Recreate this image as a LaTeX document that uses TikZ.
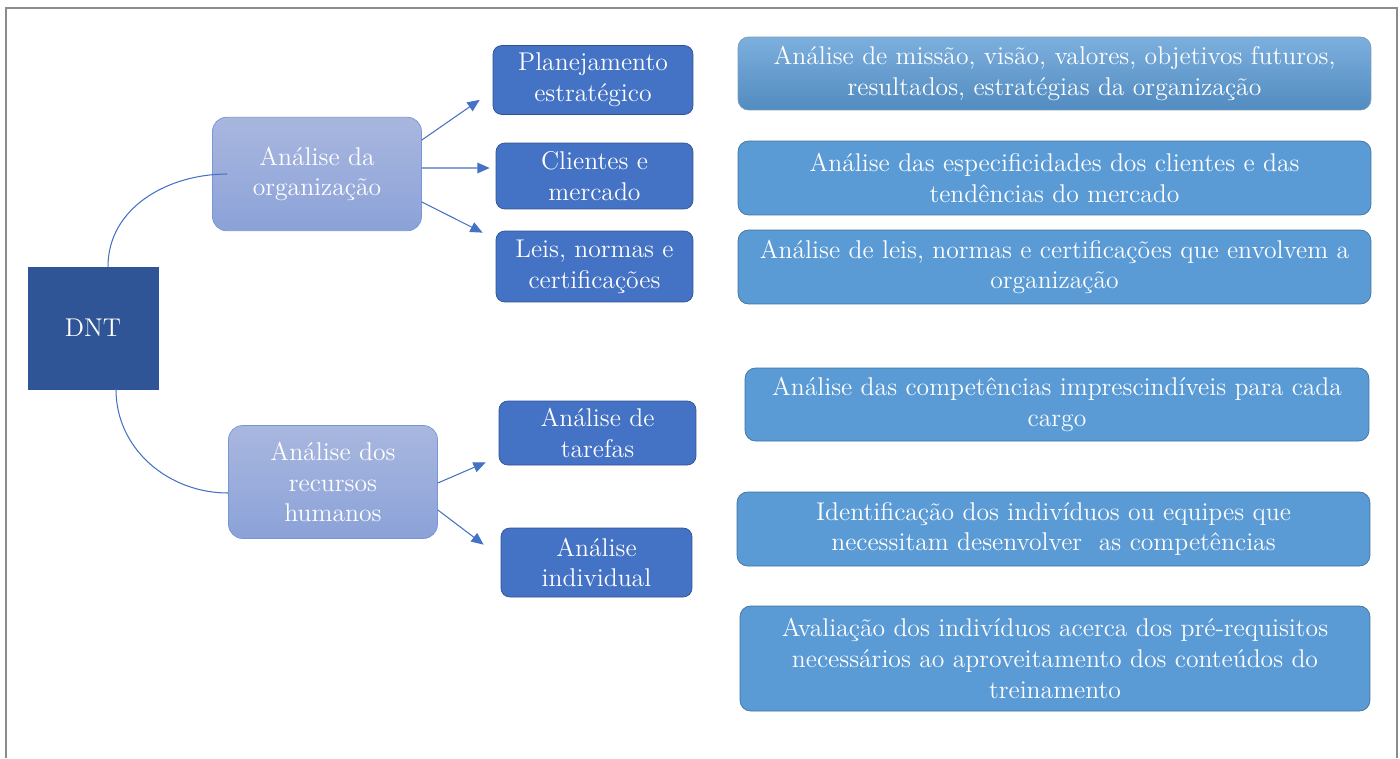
\documentclass[tikz,border=0pt]{standalone}
\usepackage{fontspec}
\usetikzlibrary{arrows.meta,positioning}

\definecolor{dntblue}{HTML}{2F5597}
\definecolor{midblue}{HTML}{4472C4}
\definecolor{midedge}{HTML}{2F528F}
\definecolor{lighttop}{HTML}{A9B7DF}
\definecolor{lightbot}{HTML}{8BA2D8}
\definecolor{lightedge}{HTML}{7895D6}
\definecolor{skyblue}{HTML}{5B9BD5}
\definecolor{skyedge}{HTML}{41719C}
\definecolor{framegray}{HTML}{8C8C8C}

\begin{document}
\begin{tikzpicture}[
  x=0.02cm, y=-0.02cm,
  font=\rmfamily\fontsize{14.6}{17.5}\selectfont,
  >={Triangle[length=7pt,width=6pt]},
  root/.style={
    rectangle, draw=dntblue, fill=dntblue, text=white,
    minimum width=2.6cm, minimum height=2.44cm, text centered
  },
  area/.style={
    rectangle, rounded corners=8pt, draw=lightedge, top color=lighttop,
    bottom color=lightbot, text=white, minimum width=4.18cm,
    minimum height=2.27cm, text centered, align=center
  },
  topic/.style={
    rectangle, rounded corners=5pt, draw=midedge, fill=midblue, text=white,
    minimum width=3.94cm, text centered, align=center, inner sep=2pt
  },
  detail/.style={
    rectangle, rounded corners=6pt, draw=skyedge, fill=skyblue, text=white,
    minimum width=12.66cm, minimum height=1.48cm, text centered, align=center,
    inner sep=2pt
  },
  arr/.style={->, draw=midblue, line width=0.6pt},
  link/.style={draw=midblue, line width=0.6pt},
]

\useasboundingbox (0,0) rectangle (1400,758);

%% Outer frame
\draw[framegray, line width=1pt] (6,758) -- (6,8) -- (1397,8) -- (1397,758);

%% Root and the two areas
\node[root]                   (dnt)  at (93,328)  {DNT};
\node[area]                   (org)  at (317,174) {Análise da\\organização};
\node[area, minimum height=2.26cm] (rh) at (333,482) {Análise dos\\recursos\\humanos};

%% Topics
\node[topic, minimum width=4cm, minimum height=1.38cm] (plan) at (593,80)    {Planejamento\\estratégico};
\node[topic, minimum height=1.32cm]                    (cli)  at (594.5,176) {Clientes e\\mercado};
\node[topic, minimum height=1.42cm]                    (leis) at (594.5,266.5) {Leis, normas e\\certificações};
\node[topic, minimum height=1.28cm]                    (tar)  at (597.5,433) {Análise de\\tarefas};
\node[topic, minimum width=3.82cm, minimum height=1.38cm] (ind) at (596.5,562.5) {Análise\\individual};

%% Details (right column)
\node[detail, draw=skyedge!70, top color=skyblue!80!white, bottom color=skyblue!90!black,
      minimum height=1.46cm] (dplan) at (1054.5,73.5)
  {Análise de missão, visão, valores, objetivos futuros,\\resultados, estratégias da organização};
\node[detail] (dcli)  at (1054.5,178)
  {Análise das especificidades dos clientes e das\\tendências do mercado};
\node[detail] (dleis) at (1054.5,267)
  {Análise de leis, normas e certificações que envolvem a\\organização};
\node[detail, minimum width=12.48cm, minimum height=1.46cm] (dtar) at (1057,404.5)
  {Análise das competências imprescindíveis para cada\\cargo};
\node[detail] (dind)  at (1053.5,529)
  {Identificação dos indivíduos ou equipes que\\necessitam desenvolver\ \ as competências};
\node[detail, minimum width=12.6cm, minimum height=2.1cm] (dpre) at (1055,658.5)
  {Avaliação dos indivíduos acerca dos pré-requisitos\\necessários ao aproveitamento dos conteúdos do\\treinamento};

%% Curved links from DNT
\draw[link] ([xshift=0.3cm]dnt.north) to[out=90, in=180] ([xshift=0.3cm]org.west);
\draw[link] ([xshift=0.46cm]dnt.south) to[out=-90, in=180] ([yshift=-0.22cm]rh.west);

%% Arrows to topics
\draw[arr] ([yshift=0.68cm]org.east) -- ([xshift=-0.26cm,yshift=0.3cm]plan.south west);
\draw[arr] ([yshift=0.12cm]org.east) -- ([xshift=-0.12cm,yshift=0.16cm]cli.west);
\draw[arr] ([yshift=-0.56cm]org.east) -- ([xshift=-0.26cm,yshift=-0.04cm]leis.north west);
\draw[arr] ([yshift=-0.02cm]rh.east) -- ([xshift=-0.26cm,yshift=0.06cm]tar.south west);
\draw[arr] ([yshift=-0.56cm]rh.east) -- ([xshift=-0.34cm,yshift=-0.34cm]ind.north west);

\end{tikzpicture}
\end{document}
